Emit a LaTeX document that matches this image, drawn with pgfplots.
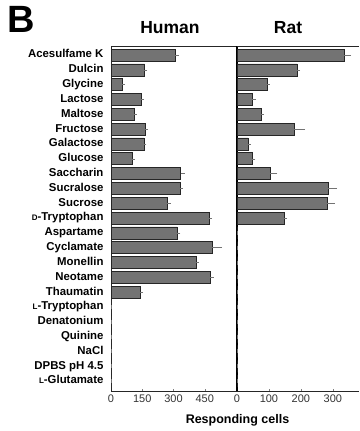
\documentclass[border=0pt]{standalone}
\usepackage{pgfplots}
\pgfplotsset{compat=1.18}
\usepackage{pgfplotstable}
\usepackage{fontspec}
\setmainfont{Liberation Sans}
\pgfplotstableread{
i h he r re
0 308 8 335 16
1 161 3 188 3
2 53 3 94 3
3 147 2 49 5
4 113 2 75 3
5 165 3 178 29
6 158 2 34 2
7 103 2 49 2
8 334 10 104 16
9 332 5 286 21
10 270 8 283 17
11 474 2 148 3
12 318 5 0 0
13 487 37 0 0
14 410 2 0 0
15 479 5 0 0
16 140 5 0 0
17 0 0 0 0
18 0 0 0 0
19 0 0 0 0
20 0 0 0 0
21 0 0 0 0
22 0 0 0 0
}\data
\pgfplotsset{mybars/.style={
  scale only axis, height=345pt, xbar, bar width=12pt,
  y dir=reverse, ymin=-0.61, ymax=22.67, ytick={0,...,22},
  xmin=0, tick align=inside, major tick length=2.5pt,
  ytick style={draw=none}, xtick pos=bottom,
  axis line style={black!85, line width=0.8pt},
  /pgf/number format/assume math mode=true,
  xticklabel style={font=\fontsize{11}{12}\selectfont, text=black!80},
  yticklabel style={font=\bfseries\fontsize{11.4}{12}\selectfont, xshift=-4pt, text height=8.2pt, text depth=2.4pt},
  clip=false,
}}
\begin{document}
\begin{tikzpicture}[x=1pt,y=1pt]
\useasboundingbox (0,0) rectangle (359,431);
\begin{axis}[mybars, at={(111pt,40pt)}, anchor=south west, width=125pt,
  xmax=600, xtick={0,150,300,450},
  yticklabels={Acesulfame K,Dulcin,Glycine,Lactose,Maltose,Fructose,Galactose,Glucose,Saccharin,Sucralose,Sucrose,{{\fontsize{8}{8}\selectfont D}-Tryptophan},Aspartame,Cyclamate,Monellin,Neotame,Thaumatin,{{\fontsize{8}{8}\selectfont L}-Tryptophan},Denatonium,Quinine,NaCl,DPBS pH 4.5,{{\fontsize{8}{8}\selectfont L}-Glutamate}}]
\addplot[fill=black!55, draw=black!85, line width=0.6pt,
  error bars/.cd, x dir=plus, x explicit,
  error bar style={black!55, line width=0.5pt},
  error mark options={black!55, mark size=2pt}]
  table[x=h, y=i, x error=he] {\data};
\end{axis}
\begin{axis}[mybars, at={(237pt,40pt)}, anchor=south west, width=122pt,
  xmax=382, xtick={0,100,200,300}, yticklabels={},
  axis x line*=bottom, axis y line*=left,
  y axis line style={black, line width=1.6pt}]
\addplot[fill=black!55, draw=black!85, line width=0.6pt,
  error bars/.cd, x dir=plus, x explicit,
  error bar style={black!55, line width=0.5pt},
  error mark options={black!55, mark size=2pt}]
  table[x=r, y=i, x error=re] {\data};
\draw[black!85, line width=0.8pt] (rel axis cs:0,1) -- (rel axis cs:1,1);
\end{axis}
\node[font=\bfseries\fontsize{38}{40}\selectfont] at (21,412) {B};
\node[font=\bfseries\fontsize{17.5}{19}\selectfont] at (170,403.5) {Human};
\node[font=\bfseries\fontsize{17.5}{19}\selectfont] at (288,403.5) {Rat};
\node[font=\bfseries\fontsize{12.5}{14}\selectfont] at (237.5,11) {Responding cells};
\end{tikzpicture}
\end{document}
